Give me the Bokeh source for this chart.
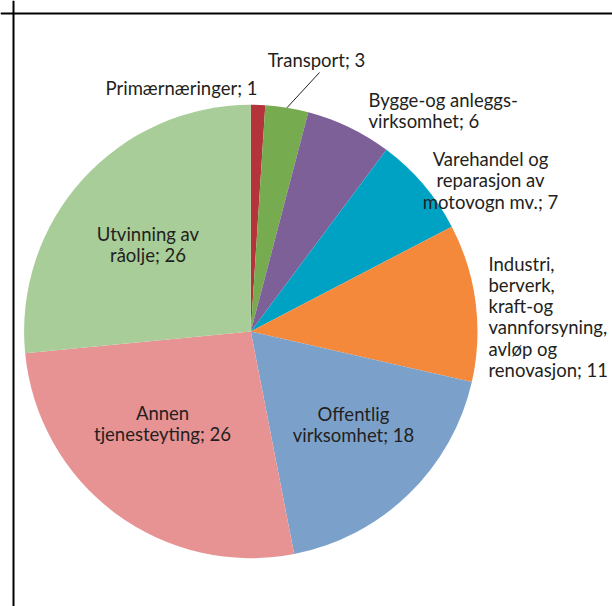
import math
from bokeh.plotting import figure
from bokeh.models import ColumnDataSource, Range1d, Span
from bokeh.core.properties import value
from bokeh.embed import file_html
from bokeh.resources import INLINE

# ---- data ----
categories = ["Primærnæringer", "Transport", "Bygge-og anleggsvirksomhet",
              "Varehandel og reparasjon av motovogn mv.",
              "Industri, berverk, kraft-og vannforsyning, avløp og renovasjon",
              "Offentlig virksomhet", "Annen tjenesteyting", "Utvinning av råolje"]
values = [1, 3, 6, 7, 11, 18, 26, 26]
colors = ["#B3343A", "#76AB4F", "#7E6099", "#00A2C4", "#F5893B",
          "#7BA1CB", "#E89393", "#A8CD98"]
label_lines = [
    ["Primærnæringer; 1"],
    ["Transport; 3"],
    ["Bygge-og anleggs-", "virksomhet; 6"],
    ["Varehandel og", "reparasjon av", "motovogn mv.; 7"],
    ["Industri,", "berverk,", "kraft-og", "vannforsyning,", "avløp og", "renovasjon; 11"],
    ["Offentlig", "virksomhet; 18"],
    ["Annen", "tjenesteyting; 26"],
    ["Utvinning av", "råolje; 26"],
]

# ---- layout (page pixels -> data units) ----
W, H = 612, 606
def dx(px):
    return px
def dy(py):
    return H - py

CX, CY, R = dx(250.3), dy(331), 226.7
FONT = "Lato"
FS = "18.5px"
LINE = 21.3
BASE_SHIFT = -7
TEXT_COLOR = "#231F20"

# label anchor (page px): x, first baseline y, alignment
label_layout = [
    (181, 94, "center"),
    (316, 66.7, "center"),
    (368, 106, "left"),
    (490, 165.5, "center"),
    (488, 270, "left"),
    (353, 420, "center"),
    (162, 419.5, "center"),
    (147.5, 240.5, "center"),
]
leader_end = (319, 72)  # Transport leader line end (page px)

total = float(sum(values))
starts, ends, mids = [], [], []
acc = 0.0
for v in values:
    a0 = acc / total * 2 * math.pi
    acc += v
    a1 = acc / total * 2 * math.pi
    starts.append(math.pi / 2 - a0)
    ends.append(math.pi / 2 - a1)
    mids.append(math.pi / 2 - (a0 + a1) / 2)

src = ColumnDataSource(dict(cat=categories, val=values, color=colors,
                            start=starts, end=ends))

p = figure(width=W, height=H, output_backend="svg", toolbar_location=None,
           x_range=Range1d(0, W), y_range=Range1d(0, H),
           min_border=0, outline_line_color=None)
p.axis.visible = False
p.grid.visible = False
p.background_fill_color = "white"
p.border_fill_color = "white"

p.wedge(x=CX, y=CY, radius=R, start_angle="start", end_angle="end",
        direction="clock", fill_color="color", line_color=None, source=src)

# leader line for Transport
m = mids[1]
p.segment(x0=[CX + R * math.cos(m)], y0=[CY + R * math.sin(m)],
          x1=[dx(leader_end[0])], y1=[dy(leader_end[1])],
          line_color=TEXT_COLOR, line_width=1)

# labels
for lines, (lx, ly, al) in zip(label_lines, label_layout):
    xs = [dx(lx)] * len(lines)
    ys = [dy(ly + BASE_SHIFT + i * LINE) for i in range(len(lines))]
    p.text(x=xs, y=ys, text=lines, text_font=value(FONT), text_font_size=FS,
           text_color=TEXT_COLOR, text_align=al, text_baseline="alphabetic")

# frame (left and top edges; right and bottom lie beyond the page)
p.add_layout(Span(location=dx(13), dimension="height", line_color="black", line_width=2))
p.add_layout(Span(location=dy(13), dimension="width", line_color="black", line_width=2))

open("out.html", "w").write(file_html(p, INLINE))
